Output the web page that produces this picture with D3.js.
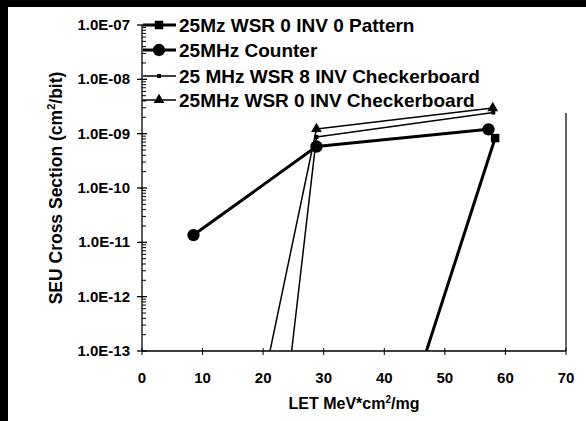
<!DOCTYPE html>
<html>
<head>
<meta charset="utf-8">
<script src="https://cdn.jsdelivr.net/npm/d3@7"></script>
<style>
	body { margin: 0; background: #fff; }
	text { font-family: "Liberation Sans", Arial, sans-serif; font-weight: bold; fill: #000; }
</style>
</head>
<body>
<div id="chart"></div>
<script>
// series names (legend order)
var seriesNames = [
	"25Mz WSR 0 INV 0 Pattern",
	"25MHz Counter",
	"25 MHz WSR 8 INV Checkerboard",
	"25MHz WSR 0 INV Checkerboard"
];
// LET values and cross sections
// (first points of the WSR series sit below the 1E-13 floor)
var letPattern = [43, 58.3];
var xsPattern = [4.3e-15, 8.3e-10];
var letCounter = [8.5, 28.8, 57.2];
var xsCounter = [1.36e-11, 5.8e-10, 1.2e-9];
var letWsr8 = [24, 28.8, 58];
var xsWsr8 = [2.1e-14, 8.7e-10, 2.45e-9];
var letWsr0 = [20, 28.8, 57.9];
var xsWsr0 = [2.5e-14, 1.22e-9, 2.96e-9];

var xTicks = [0, 10, 20, 30, 40, 50, 60, 70];
var yTicks = [1e-7, 1e-8, 1e-9, 1e-10, 1e-11, 1e-12, 1e-13];
var yTickLabels = ["1.0E-07", "1.0E-08", "1.0E-09", "1.0E-10", "1.0E-11", "1.0E-12", "1.0E-13"];

drawChart();

function drawChart() {
	var width = 586, height = 421;
	var pLeft = 142, pRight = 566, pTop = 25, pBottom = 351;

	var svg = d3.select("#chart").append("svg")
		.attr("width", width)
		.attr("height", height);

	svg.append("rect").attr("width", width).attr("height", height).attr("fill", "#fff");
	// scanned black edges
	svg.append("rect").attr("width", width).attr("height", 7).attr("fill", "#000");
	svg.append("rect").attr("width", 8).attr("height", height).attr("fill", "#000");

	var x = d3.scaleLinear().domain([0, 70]).range([pLeft, pRight]);
	var y = d3.scaleLog().domain([1e-13, 1e-7]).range([pBottom, pTop]);

	svg.append("defs").append("clipPath").attr("id", "plotclip")
		.append("rect")
		.attr("x", pLeft).attr("y", pTop)
		.attr("width", pRight - pLeft).attr("height", pBottom - pTop);

	// y axis with log minor ticks on the inside
	var yAxis = svg.append("g").attr("transform", "translate(" + pLeft + ",0)");
	var minor = [];
	for (var e = -13; e < -7; e++) {
		for (var m = 2; m <= 9; m++) minor.push(m * Math.pow(10, e));
	}
	yAxis.selectAll(".minor").data(minor).enter().append("line")
		.attr("class", "minor")
		.attr("x1", 0).attr("x2", 4)
		.attr("y1", function(d) { return y(d); })
		.attr("y2", function(d) { return y(d); })
		.attr("stroke", "#000").attr("stroke-width", 1);
	yAxis.selectAll(".major").data(yTicks).enter().append("line")
		.attr("class", "major")
		.attr("x1", -5).attr("x2", 5)
		.attr("y1", function(d) { return y(d); })
		.attr("y2", function(d) { return y(d); })
		.attr("stroke", "#000").attr("stroke-width", 1.3);
	yAxis.append("line")
		.attr("y1", y(1e-7)).attr("y2", y(1e-13))
		.attr("stroke", "#000").attr("stroke-width", 1.3);
	yAxis.selectAll("text").data(yTicks).enter().append("text")
		.attr("x", -12)
		.attr("y", function(d) { return y(d) + 5; })
		.attr("text-anchor", "end")
		.style("font-size", "15px")
		.text(function(d, i) { return yTickLabels[i]; });

	// x axis
	var xAxis = svg.append("g").attr("transform", "translate(0," + pBottom + ")");
	xAxis.append("line")
		.attr("x1", x(0)).attr("x2", x(70))
		.attr("stroke", "#000").attr("stroke-width", 1.5);
	xAxis.selectAll("line.tick").data(xTicks).enter().append("line")
		.attr("class", "tick")
		.attr("x1", function(d) { return x(d); })
		.attr("x2", function(d) { return x(d); })
		.attr("y1", -3).attr("y2", 4)
		.attr("stroke", "#000").attr("stroke-width", 1);
	xAxis.selectAll("text").data(xTicks).enter().append("text")
		.attr("x", function(d) { return x(d); })
		.attr("y", 32)
		.attr("text-anchor", "middle")
		.style("font-size", "15px")
		.text(function(d) { return d; });

	// right frame edge (only the lower part survived the scan)
	svg.append("line")
		.attr("x1", pRight).attr("x2", pRight)
		.attr("y1", y(2.4e-9)).attr("y2", pBottom)
		.attr("stroke", "#000").attr("stroke-width", 1.2);

	// axis titles
	var xt = svg.append("text")
		.attr("x", (pLeft + pRight) / 2)
		.attr("y", 409)
		.attr("text-anchor", "middle")
		.style("font-size", "16px");
	xt.append("tspan").text("LET MeV*cm");
	xt.append("tspan").attr("dy", -6).style("font-size", "10px").text("2");
	xt.append("tspan").attr("dy", 6).text("/mg");

	var yt = svg.append("text")
		.attr("transform", "translate(62," + (pTop + pBottom) / 2 + ") rotate(-90)")
		.attr("text-anchor", "middle")
		.style("font-size", "17.5px");
	yt.append("tspan").text("SEU Cross Section (cm");
	yt.append("tspan").attr("dy", -7).style("font-size", "11px").text("2");
	yt.append("tspan").attr("dy", 7).text("/bit)");

	// series
	var series = [
		{ name: seriesNames[0], let: letPattern, xs: xsPattern, marker: "square", width: 3 },
		{ name: seriesNames[1], let: letCounter, xs: xsCounter, marker: "circle", width: 3 },
		{ name: seriesNames[2], let: letWsr8, xs: xsWsr8, marker: "dot", width: 1.5 },
		{ name: seriesNames[3], let: letWsr0, xs: xsWsr0, marker: "triangle", width: 1.5 }
	];

	var line = d3.line()
		.x(function(d) { return x(d[0]); })
		.y(function(d) { return y(d[1]); });

	var symbols = {
		square: d3.symbol().type(d3.symbolSquare).size(72),
		circle: d3.symbol().type(d3.symbolCircle).size(120),
		dot: d3.symbol().type(d3.symbolSquare).size(16),
		triangle: d3.symbol().type(d3.symbolTriangle).size(50)
	};

	var plot = svg.append("g");
	series.forEach(function(s) {
		var pts = s.let.map(function(v, i) { return [v, s.xs[i]]; });
		plot.append("path")
			.attr("clip-path", "url(#plotclip)")
			.attr("d", line(pts))
			.attr("fill", "none")
			.attr("stroke", "#000")
			.attr("stroke-width", s.width)
			.attr("stroke-linejoin", "round");
		plot.selectAll(null)
			.data(pts.filter(function(d) { return d[1] >= 1e-13; }))
			.enter().append("path")
			.attr("d", symbols[s.marker])
			.attr("transform", function(d) { return "translate(" + x(d[0]) + "," + y(d[1]) + ")"; })
			.attr("fill", "#000");
	});

	// legend
	var legend = svg.append("g");
	var rowY = [25, 50, 76, 100];
	series.forEach(function(s, i) {
		var g = legend.append("g").attr("transform", "translate(0," + rowY[i] + ")");
		g.append("line")
			.attr("x1", 143).attr("x2", 176)
			.attr("stroke", "#000").attr("stroke-width", s.width);
		g.append("path")
			.attr("d", symbols[s.marker])
			.attr("transform", "translate(159,0)")
			.attr("fill", "#000");
		g.append("text")
			.attr("x", 179).attr("y", 7)
			.style("font-size", "19px")
			.text(s.name);
	});
}
</script>
</body>
</html>
